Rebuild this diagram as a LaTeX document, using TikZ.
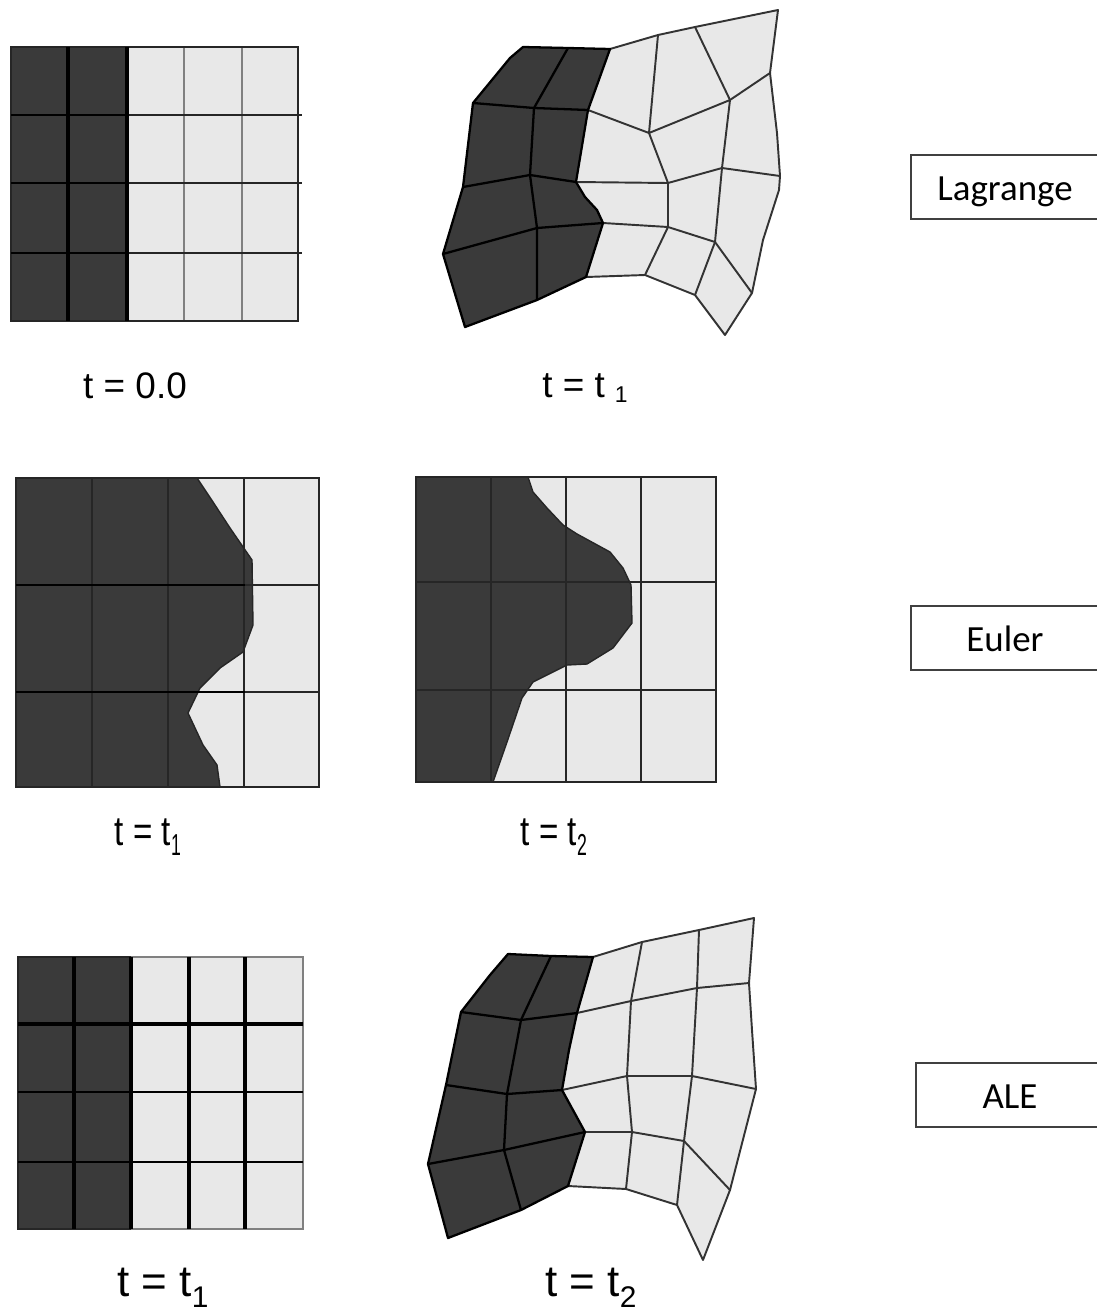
\documentclass[tikz,border=0pt]{standalone}
\usepackage{fontspec}
\setmainfont{Liberation Sans}
\newfontfamily\boxfont{Carlito}
\usepackage{graphicx}
\usepackage{tikz}
\usetikzlibrary{positioning}

\definecolor{darkcell}{HTML}{3A3A3A}
\definecolor{lightcell}{HTML}{E8E8E8}
\newcommand{\tlabel}[1]{\scalebox{0.9}[1.12]{t = t\raisebox{-0.45ex}{\scalebox{0.8}[1.1]{\fontsize{14pt}{15pt}\selectfont #1}}}}
\tikzset{
  gridline/.style={black!85, line width=1.3pt},
  darkline/.style={black, line width=1.8pt},
  paleline/.style={black!50, line width=1.4pt},
  meshlight/.style={black!80, line width=1.1pt, line join=round},
  meshdark/.style={black, line width=1.3pt, line join=round},
  frontline/.style={black!85, line width=0.8pt, line join=round},
  timelabel/.style={font=\fontsize{21pt}{24pt}\selectfont, inner sep=0pt},
  bigtime/.style={timelabel, font=\fontsize{25pt}{28pt}\selectfont},
  methodbox/.style={draw=black!75, line width=0.8pt, fill=white, minimum width=3.76cm, minimum height=1.28cm, text height=0.56cm, text depth=0.04cm, font=\boxfont\fontsize{21pt}{24pt}\selectfont, inner sep=0pt}
}

\begin{document}
\begin{tikzpicture}[x=0.02cm, y=-0.02cm]
  \useasboundingbox (0,0) rectangle (1097,1312);

  % Lagrange, undeformed
  \fill[lightcell] (127,47) rectangle (298,321);
  \fill[darkcell] (11,47) rectangle (127,321);
  \foreach \xa in {184,242} \draw[paleline] (\xa,47) -- (\xa,321);
  \foreach \ya in {115,183,253} \draw[gridline, line width=1.1pt] (127,\ya) -- (302,\ya);
  \draw[gridline] (127,47) -- (298,47) -- (298,321) -- (127,321);
  \draw[gridline] (127,47) -- (11,47) -- (11,321) -- (127,321);
  \foreach \xa in {68,127} \draw[darkline] (\xa,47) -- (\xa,321);
  \foreach \ya in {115,183,253} \draw[darkline, line width=1.5pt] (11,\ya) -- (127,\ya);

  % Lagrange, deformed
  \fill[lightcell] (523,47) -- (610,49) -- (658,35) -- (695,27) -- (778,10) -- (770,73) -- (777,133) -- (780,176) -- (779,190) -- (763,240) -- (752,293) -- (725,335) -- (695,295) -- (645,275) -- (586,277) -- cycle;
  \fill[darkcell] (523,47) -- (568,48) -- (610,49) -- (588,110) -- (576,182) -- (585,197) -- (597,210) -- (603,223) -- (586,277) -- (537,300) -- (465,327) -- (443,254) -- (463,187) -- (473,103) -- (510,58) -- cycle;
  \draw[meshlight] (610,49) -- (658,35) -- (695,27) -- (778,10) -- (770,73) -- (777,133) -- (780,176) -- (779,190) -- (763,240) -- (752,293) -- (725,335) -- (695,295) -- (645,275) -- (586,277);
  \draw[meshlight] (588,110) -- (649,133) -- (730,100) -- (770,73);
  \draw[meshlight] (576,182) -- (668,183) -- (722,168) -- (780,176);
  \draw[meshlight] (603,223) -- (668,227) -- (715,242) -- (752,293);
  \draw[meshlight] (658,35) -- (649,133) -- (668,183) -- (668,227) -- (645,275);
  \draw[meshlight] (695,27) -- (730,100) -- (722,168) -- (715,242) -- (695,295);
  \draw[meshdark] (523,47) -- (568,48) -- (610,49) -- (588,110) -- (576,182) -- (585,197) -- (597,210) -- (603,223) -- (586,277) -- (537,300) -- (465,327) -- (443,254) -- (463,187) -- (473,103) -- (510,58) -- cycle;
  \draw[meshdark] (473,103) -- (534,108) -- (588,110);
  \draw[meshdark] (463,187) -- (530,175) -- (576,182);
  \draw[meshdark] (443,254) -- (537,228) -- (603,223);
  \draw[meshdark] (568,48) -- (534,108) -- (530,175) -- (537,228) -- (537,300);

  % Euler, first step
  \fill[lightcell] (16,478) rectangle (319,787);
  \fill[darkcell] (16,478) -- (197,478) -- (213,502) -- (230,528) -- (252,560) -- (253,625) -- (243,652) -- (220,668) -- (200,688) -- (188,713) -- (203,745) -- (217,765) -- (220,787) -- (16,787) -- cycle;
  \draw[frontline] (197,478) -- (213,502) -- (230,528) -- (252,560) -- (253,625) -- (243,652) -- (220,668) -- (200,688) -- (188,713) -- (203,745) -- (217,765) -- (220,787);
  \draw[gridline] (16,478) rectangle (319,787);
  \foreach \xa in {92,168,244} \draw[gridline] (\xa,478) -- (\xa,787);
  \foreach \ya in {585,692} \draw[gridline] (16,\ya) -- (319,\ya);
  \foreach \ya in {585,692} \draw[darkline, line width=1.5pt] (16,\ya) -- (245,\ya);

  % Euler, second step
  \fill[lightcell] (416,477) rectangle (716,782);
  \fill[darkcell] (416,477) -- (528,477) -- (533,492) -- (547,508) -- (563,525) -- (577,534) -- (610,552) -- (623,568) -- (631,585) -- (632,623) -- (613,648) -- (587,664) -- (567,665) -- (533,682) -- (522,698) -- (507,742) -- (493,782) -- (416,782) -- cycle;
  \draw[frontline] (528,477) -- (533,492) -- (547,508) -- (563,525) -- (577,534) -- (610,552) -- (623,568) -- (631,585) -- (632,623) -- (613,648) -- (587,664) -- (567,665) -- (533,682) -- (522,698) -- (507,742) -- (493,782);
  \draw[gridline] (416,477) rectangle (716,782);
  \foreach \xa in {491,566,641} \draw[gridline] (\xa,477) -- (\xa,782);
  \foreach \ya in {582,690} \draw[gridline] (416,\ya) -- (716,\ya);

  % ALE, reference grid
  \fill[lightcell] (131,957) rectangle (303,1229);
  \fill[darkcell] (18,957) rectangle (131,1229);
  \draw[paleline] (131,957) -- (303,957) -- (303,1229) -- (131,1229);
  \draw[gridline] (131,957) -- (18,957) -- (18,1229) -- (131,1229);
  \foreach \ya in {1092,1162} \draw[gridline, black] (18,\ya) -- (303,\ya);
  \draw[darkline] (18,1024) -- (303,1024);
  \foreach \xa in {74,131,189,245} \draw[darkline] (\xa,957) -- (\xa,1229);

  % ALE, deformed
  \fill[lightcell] (508,954) -- (593,957) -- (642,942) -- (699,930) -- (754,918) -- (749,983) -- (752,1030) -- (756,1089) -- (730,1190) -- (703,1260) -- (677,1205) -- (626,1189) -- (568,1186) -- cycle;
  \fill[darkcell] (508,954) -- (551,956) -- (593,957) -- (577,1013) -- (569,1050) -- (562,1090) -- (585,1132) -- (568,1186) -- (521,1210) -- (448,1238) -- (428,1164) -- (446,1085) -- (461,1012) -- (490,975) -- cycle;
  \draw[meshlight] (593,957) -- (642,942) -- (699,930) -- (754,918) -- (749,983) -- (752,1030) -- (756,1089) -- (730,1190) -- (703,1260) -- (677,1205) -- (626,1189) -- (568,1186);
  \draw[meshlight] (577,1013) -- (631,1001) -- (697,988) -- (749,983);
  \draw[meshlight] (562,1090) -- (627,1076) -- (692,1076) -- (756,1089);
  \draw[meshlight] (585,1132) -- (632,1132) -- (684,1141) -- (730,1190);
  \draw[meshlight] (642,942) -- (631,1001) -- (627,1076) -- (632,1132) -- (626,1189);
  \draw[meshlight] (699,930) -- (697,988) -- (692,1076) -- (684,1141) -- (677,1205);
  \draw[meshdark] (508,954) -- (551,956) -- (593,957) -- (577,1013) -- (569,1050) -- (562,1090) -- (585,1132) -- (568,1186) -- (521,1210) -- (448,1238) -- (428,1164) -- (446,1085) -- (461,1012) -- (490,975) -- cycle;
  \draw[meshdark] (461,1012) -- (521,1020) -- (577,1013);
  \draw[meshdark] (446,1085) -- (507,1094) -- (562,1090);
  \draw[meshdark] (428,1164) -- (504,1150) -- (585,1132);
  \draw[meshdark] (551,956) -- (521,1020) -- (507,1094) -- (504,1150) -- (521,1210);

  % time labels
  \node[timelabel] (lagA) at (135,386) {t = 0.0};
  \node[timelabel] (lagB) at (585,388) {t = t\,{\raisebox{-0.3ex}{\fontsize{13pt}{14pt}\selectfont\,1}}};
  \node[timelabel] (eulA) at (148,837) {\tlabel{1}};
  \node[timelabel] (eulB) at (554,837) {\tlabel{2}};
  \node[bigtime] (aleA) at (163,1288) {t = t\raisebox{-0.45ex}{\fontsize{17pt}{18pt}\selectfont 1}};
  \node[bigtime] (aleB) at (591,1288) {t = t\raisebox{-0.45ex}{\fontsize{17pt}{18pt}\selectfont 2}};

  % method boxes
  \node[methodbox] (lagrange) at (1005,187) {Lagrange};
  \node[methodbox] (euler) at (1005,638) {Euler};
  \node[methodbox] (ale) at (1010,1095) {ALE};
\end{tikzpicture}
\end{document}
